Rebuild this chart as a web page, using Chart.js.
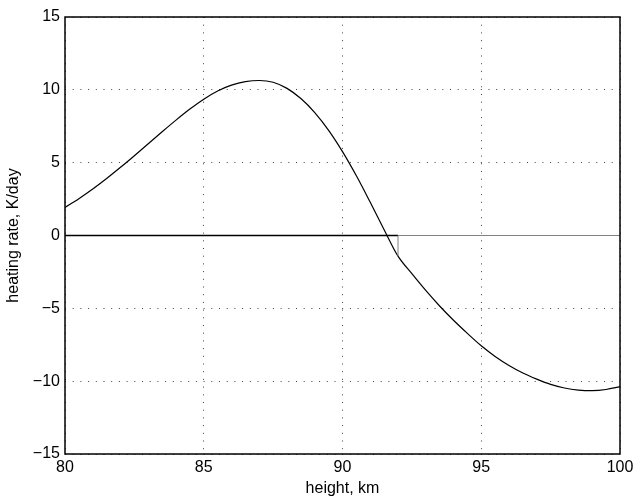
<!DOCTYPE html>
<html>
<head>
  <title>Heating rate vs height</title>
  <script src="https://cdn.jsdelivr.net/npm/chart.js"></script>
  <style>
    html, body { margin: 0; padding: 0; background: #fff; }
    #wrap { width: 634px; height: 500px; }
  </style>
</head>
<body>
  <div id="wrap"><canvas id="heatChart"></canvas></div>

  <script>
    // heating rate profile, K/day
    var heights = [80, 80.5, 81, 81.5, 82, 82.5, 83, 83.5, 84, 84.5, 85, 85.5, 86, 86.5, 87, 87.5,
                   88, 88.5, 89, 89.5, 90, 90.5, 91, 91.5, 92, 92.5, 93, 93.5, 94, 94.5, 95,
                   95.5, 96, 96.5, 97, 97.5, 98, 98.5, 99, 99.5, 100];
    var heatingRate = [1.93, 2.53, 3.19, 3.91, 4.68, 5.48, 6.30, 7.12, 7.92, 8.68, 9.36, 9.92, 10.32, 10.56, 10.64, 10.52,
                       10.10, 9.40, 8.44, 7.22, 5.76, 4.10, 2.28, 0.40, -1.42, -2.62, -3.77, -4.84, -5.82, -6.72, -7.57,
                       -8.30, -8.92, -9.44, -9.86, -10.22, -10.47, -10.61, -10.65, -10.57, -10.38];

    // zero reference below the cutoff
    var zeroHeights = [80, 92];
    var zeroValues = [0, 0];

    // cutoff step and zero line above it
    var cutHeights = [92, 92, 100];
    var cutValues = [-1.42, 0, 0];

    var xTicks = [80, 85, 90, 95, 100];
    var yTicks = [-15, -10, -5, 0, 5, 10, 15];

    function toPoints(xs, ys) {
      return xs.map(function(x, i) { return { x: x, y: ys[i] }; });
    }

    var fontFamily = '"Liberation Sans", Arial, Helvetica, sans-serif';

    // frame round the plot area
    var boxPlugin = {
      id: 'box',
      afterDraw: function(chart) {
        var a = chart.chartArea, c = chart.ctx;
        c.save();
        c.strokeStyle = '#000';
        c.lineWidth = 1.5;
        c.strokeRect(a.left, a.top, a.right - a.left, a.bottom - a.top);
        c.restore();
      }
    };

    var ctx = document.getElementById('heatChart').getContext('2d');
    var heatChart = new Chart(ctx, {
      type: 'line',
      data: {
        datasets: [{
          data: toPoints(cutHeights, cutValues),
          borderColor: '#808080',
          borderWidth: 1,
          pointRadius: 0,
          tension: 0
        }, {
          data: toPoints(zeroHeights, zeroValues),
          borderColor: '#000',
          borderWidth: 1.5,
          pointRadius: 0,
          tension: 0
        }, {
          data: toPoints(heights, heatingRate),
          borderColor: '#000',
          borderWidth: 1.2,
          pointRadius: 0,
          cubicInterpolationMode: 'monotone'
        }]
      },
      options: {
        responsive: true,
        maintainAspectRatio: false,
        animation: false,
        layout: { padding: { top: 17, right: 14, left: 0, bottom: 0 } },
        plugins: {
          legend: { display: false },
          tooltip: { enabled: false }
        },
        scales: {
          x: {
            type: 'linear',
            min: 80,
            max: 100,
            afterBuildTicks: function(scale) {
              scale.ticks = xTicks.map(function(v) { return { value: v }; });
            },
            afterFit: function(scale) {
              scale.height = 46;
              scale.paddingLeft = 0;
              scale.paddingRight = 0;
            },
            grid: {
              color: 'rgba(0,0,0,0.75)',
              lineWidth: 1,
              drawTicks: false
            },
            border: { display: false, dash: [1, 6.7] },
            ticks: {
              color: '#000',
              padding: 4,
              maxRotation: 0,
              font: { family: fontFamily, size: 16 }
            },
            title: {
              display: true,
              text: 'height, km',
              color: '#000',
              padding: { top: 0, bottom: 2 },
              font: { family: fontFamily, size: 16 }
            }
          },
          y: {
            type: 'linear',
            min: -15,
            max: 15,
            afterBuildTicks: function(scale) {
              scale.ticks = yTicks.map(function(v) { return { value: v }; });
            },
            afterFit: function(scale) {
              scale.width = 65;
              scale.paddingTop = 0;
              scale.paddingBottom = 0;
            },
            grid: {
              color: 'rgba(0,0,0,0.75)',
              lineWidth: 1,
              drawTicks: false
            },
            border: { display: false, dash: [1, 6.7] },
            ticks: {
              color: '#000',
              padding: 5,
              font: { family: fontFamily, size: 16 },
              callback: function(v) { return String(v).replace('-', '\u2212'); }
            },
            title: {
              display: true,
              text: 'heating rate, K/day',
              color: '#000',
              padding: { top: 4, bottom: 0 },
              font: { family: fontFamily, size: 16 }
            }
          }
        }
      },
      plugins: [boxPlugin]
    });
  </script>
</body>
</html>
